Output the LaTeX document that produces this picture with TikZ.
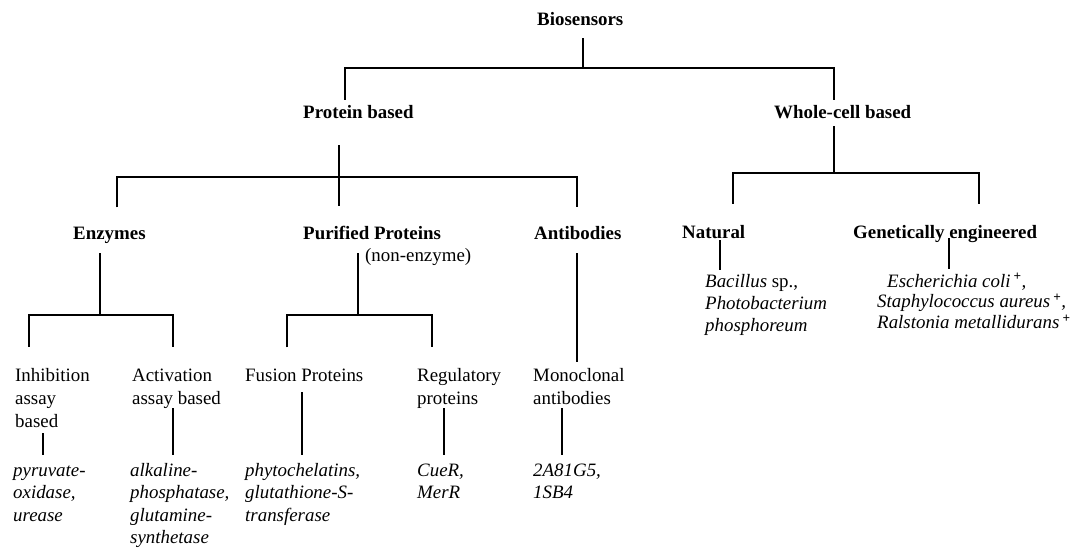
\documentclass[tikz,border=0pt]{standalone}
\usepackage{fontspec}
\setmainfont{Liberation Serif}

\tikzset{
  cat/.style={anchor=base west, inner sep=0pt, font=\fontsize{18.9}{23}\selectfont\bfseries},
  sub/.style={anchor=base west, inner sep=0pt, align=left, font=\fontsize{18.9}{23}\selectfont},
  ex/.style={sub, font=\fontsize{18.9}{22.5}\selectfont\itshape},
  branch/.style={line width=1.9pt}
}

\begin{document}
\begin{tikzpicture}[x=1pt,y=-1pt]
\useasboundingbox (0,0) rectangle (1075,548);

% headings
\node[cat] (bio) at (537,26) {Biosensors};
\node[cat] (protein) at (303,119) {Protein based};
\node[cat] (whole) at (774,119) {Whole-cell based};
\node[cat] (enzymes) at (73,239) {Enzymes};
\node[cat] (purified) at (303,239) {Purified Proteins};
\node[sub] (nonenz) at (365,261) {(non-enzyme)};
\node[cat] (antibodies) at (534,239) {Antibodies};
\node[cat] (natural) at (682,238) {Natural};
\node[cat] (genetic) at (853,238) {Genetically engineered};

% assay types (placed at the baseline of the last line)
\node[sub] (inhibition) at (15,427) {Inhibition\\assay\\based};
\node[sub] (activation) at (132,404) {Activation\\assay based};
\node[sub] (fusion) at (245,381) {Fusion Proteins};
\node[sub] (regulatory) at (417,404) {Regulatory\\proteins};
\node[sub] (monoclonal) at (533,404) {Monoclonal\\antibodies};

% examples
\node[ex] (pyruvate) at (13,521) {pyruvate-\\oxidase,\\urease};
\node[ex] (alkaline) at (130,543.5) {alkaline-\\phosphatase,\\glutamine-\\synthetase};
\node[ex] (phyto) at (245,521) {phytochelatins,\\glutathione-S-\\transferase};
\node[ex] (cuer) at (417,498.5) {CueR,\\MerR};
\node[ex] (mab) at (533,498.5) {2A81G5,\\1SB4};
\node[sub, font=\fontsize{18.9}{22}\selectfont] (bacillus) at (705,331)
  {\textit{Bacillus} sp.,\\\textit{Photobacterium}\\\textit{phosphoreum}};
\node[ex, font=\fontsize{18.9}{20.7}\selectfont\itshape] (ecoli) at (877,328.4)
  {\hspace*{10pt}Escherichia coli\,\textsuperscript{\upshape\bfseries +},\\
   Staphylococcus aureus\,\textsuperscript{\upshape\bfseries +},\\
   Ralstonia metallidurans\,\textsuperscript{\upshape\bfseries +}};

% junctions
\coordinate (bio-j) at (583,68);
\coordinate (bio-l) at (345,68);
\coordinate (bio-r) at (834,68);
\coordinate (prot-j) at (339,177);
\coordinate (prot-l) at (117,177);
\coordinate (prot-r) at (577,177);
\coordinate (whole-j) at (834,173);
\coordinate (whole-l) at (733,173);
\coordinate (whole-r) at (979,173);
\coordinate (enz-j) at (100,315);
\coordinate (enz-l) at (29,315);
\coordinate (enz-r) at (173,315);
\coordinate (pur-j) at (358,315);
\coordinate (pur-l) at (287,315);
\coordinate (pur-r) at (432,315);

% tree
\draw[branch, shorten <=12pt] (bio.south -| bio-j) -- (bio-j);
\draw[branch, shorten <=6pt, shorten >=6pt] (protein.north -| bio-l) |- (bio-j) -| (whole.north -| bio-r);

\draw[branch, shorten <=26pt, shorten >=19pt] (protein.south -| prot-j) -- (purified.north -| prot-j);
\draw[branch, shorten <=19pt, shorten >=19pt] (enzymes.north -| prot-l) |- (prot-j) -| (antibodies.north -| prot-r);

\draw[branch, shorten <=7pt] (whole.south -| whole-j) -- (whole-j);
\draw[branch, shorten <=21pt, shorten >=21pt] (natural.north -| whole-l) |- (whole-j) -| (genetic.north -| whole-r);

\draw[branch, shorten <=10pt] (enzymes.south -| enz-j) -- (enz-j);
\draw[branch, shorten <=21pt, shorten >=21pt] (inhibition.north -| enz-l) |- (enz-j) -| (activation.north -| enz-r);

\draw[branch, shorten <=14pt] (purified.south -| pur-j) -- (pur-j);
\draw[branch, shorten <=21pt, shorten >=21pt] (fusion.north -| pur-l) |- (pur-j) -| (regulatory.north -| pur-r);

\draw[branch, shorten <=14pt, shorten >=6pt] (antibodies.south -| 577,0) -- (monoclonal.north -| 577,0);

\draw[branch, shorten <=2pt, shorten >=4pt] (natural.south -| 720,0) -- (bacillus.north -| 720,0);
\draw[branch, shorten >=4pt] (genetic.base -| 949,0) -- (ecoli.north -| 949,0);

\draw[branch, shorten <=6pt, shorten >=10pt] (inhibition.south -| 43,0) -- (pyruvate.north -| 43,0);
\draw[branch, shorten >=8pt] (activation.south -| 173,0) -- (alkaline.north -| 173,0);
\draw[branch, shorten <=11pt, shorten >=8pt] (fusion.south -| 302,0) -- (phyto.north -| 302,0);
\draw[branch, shorten >=8pt] (regulatory.south -| 444,0) -- (cuer.north -| 444,0);
\draw[branch, shorten <=4pt, shorten >=8pt] (monoclonal.south -| 562,0) -- (mab.north -| 562,0);
\end{tikzpicture}
\end{document}
